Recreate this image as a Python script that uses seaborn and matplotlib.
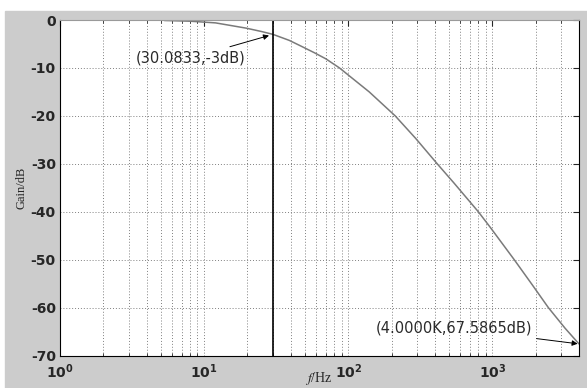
import matplotlib
matplotlib.use("Agg")
import matplotlib.pyplot as plt
from matplotlib.patches import Rectangle
from matplotlib.ticker import LogLocator, NullFormatter
import seaborn as sns
import pandas as pd

# frequency (Hz) and gain (dB)
freq = [5.3, 8, 12, 19.6, 25, 30.0833, 39, 46, 58, 70, 87, 140, 212, 294,
        415, 542, 800, 971, 1420, 1900, 2450, 3200, 4000]
gain = [-0.1, -0.25, -0.6, -1.7, -2.4, -3, -4.25, -5.3, -6.8, -8.1, -10, -15,
        -20, -24.7, -30, -34, -40, -43.3, -50, -55.3, -60, -64.3, -67.5865]

cutoff_f = 30.0833
cutoff_db = -3
end_f = 4000
end_db = -67.5865

yticks = [0, -10, -20, -30, -40, -50, -60, -70]

df = pd.DataFrame({"f": freq, "gain": gain})

sns.set_style("whitegrid")
plt.rcParams['font.family'] = ['DejaVu Sans']
plt.rcParams['mathtext.fontset'] = 'stix'
plt.rcParams['axes.unicode_minus'] = False

fig = plt.figure(figsize=(5.87, 3.88), dpi=100)
fig.patch.set_facecolor("white")
# grey window background like matlab
fig.patches.append(Rectangle((5 / 587, 0), 1 - 5 / 587, 377 / 388,
                             transform=fig.transFigure, color="#cccccc", zorder=-10))

ax = fig.add_axes([60 / 587, 1 - 355.5 / 388, 519 / 587, 335.5 / 388])
ax.set_facecolor("white")

sns.lineplot(data=df, x="f", y="gain", ax=ax, color="#7a7a7a", linewidth=1.1)
ax.set_xscale("log")
ax.set_xlim(1, 4000)
ax.set_ylim(-70, 0)
ax.set_yticks(yticks)

ax.xaxis.set_major_locator(LogLocator(base=10))
ax.xaxis.set_minor_locator(LogLocator(base=10, subs=range(2, 10)))
ax.xaxis.set_minor_formatter(NullFormatter())

ax.grid(True, which="major", axis="both", color="#808080", linestyle=(0, (1, 2)), linewidth=0.7)
ax.grid(True, which="minor", axis="x", color="#808080", linestyle=(0, (1, 2)), linewidth=0.7)

ax.axvline(cutoff_f, color="black", linewidth=1.2)

ax.tick_params(axis="both", which="major", direction="in", length=4, width=0.8,
               top=True, right=True, labelsize=10)
ax.tick_params(axis="y", which="major", pad=3)
ax.tick_params(axis="x", which="major", pad=5)
ax.tick_params(axis="x", which="minor", direction="in", length=2, width=0.6,
               top=True, bottom=True)
for lab in ax.get_xticklabels() + ax.get_yticklabels():
    lab.set_fontweight("bold")

for s in ax.spines.values():
    s.set_color("black")
    s.set_linewidth(0.8)
ax.spines["top"].set_color("#9a9a9a")

ax.set_xlabel("")
fig.text(319 / 587, 1 / 388, r"$f$/Hz", family="Liberation Serif", fontsize=10,
         ha="center", va="bottom")
ax.set_ylabel("Gain/dB", family="Liberation Serif", fontsize=9, labelpad=2)

ax.annotate("(30.0833,-3dB)", xy=(cutoff_f, cutoff_db), xytext=(8.1, -7.9),
            ha="center", va="center", fontsize=10.5, color="#2a2a2a",
            arrowprops=dict(arrowstyle="-|>", color="black", lw=0.7,
                            mutation_scale=8, shrinkA=1, shrinkB=3))
ax.annotate("(4.0000K,67.5865dB)", xy=(end_f, end_db), xytext=(540, -64.3),
            ha="center", va="center", fontsize=10.5, color="#2a2a2a",
            arrowprops=dict(arrowstyle="-|>", color="black", lw=0.7,
                            mutation_scale=8, shrinkA=1, shrinkB=1))

plt.savefig("out.png", dpi=100)
